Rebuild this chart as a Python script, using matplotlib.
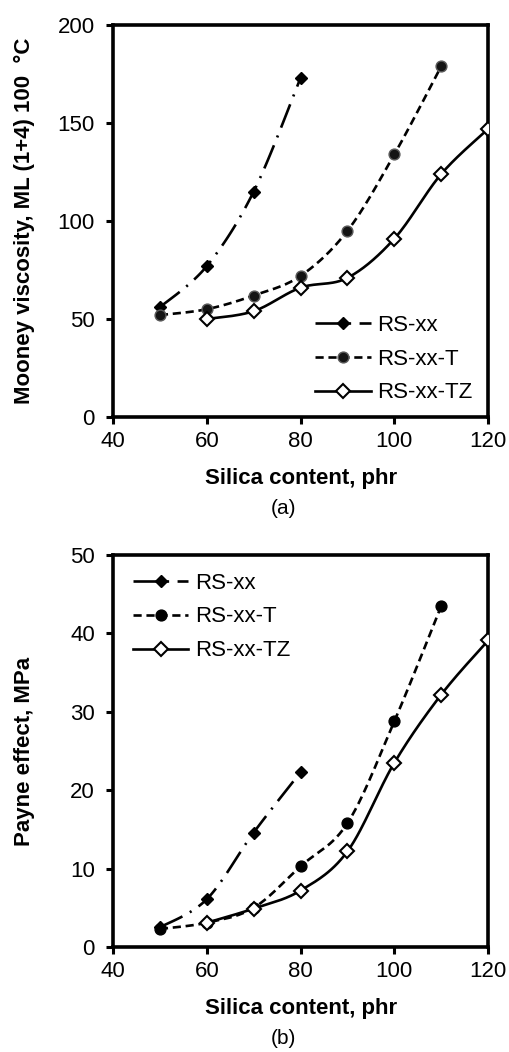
import numpy as np
import matplotlib
matplotlib.use("Agg")
import matplotlib.pyplot as plt
from matplotlib.lines import Line2D

plt.rcParams['font.family'] = ['Liberation Sans', 'DejaVu Sans']

# ---- data ----
x_xx = [50, 60, 70, 80]
x_T = [50, 60, 70, 80, 90, 100, 110]
x_TZ = [60, 70, 80, 90, 100, 110, 120]

mooney_xx = [56, 77, 115, 173]
mooney_T = [52, 55, 62, 72, 95, 134, 179]
mooney_TZ = [50, 54, 66, 71, 91, 124, 147]

payne_xx = [2.5, 6.1, 14.6, 22.3]
payne_T = [2.3, 3.1, 5.0, 10.3, 15.8, 28.8, 43.5]
payne_TZ = [3.1, 4.9, 7.2, 12.2, 23.5, 32.2, 39.1]

series_names = ["RS-xx", "RS-xx-T", "RS-xx-TZ"]
x_ticks = [40, 60, 80, 100, 120]
mooney_ticks = [0, 50, 100, 150, 200]
payne_ticks = [0, 10, 20, 30, 40, 50]


def smooth(xs, ys, xlim, ylim, n=30):
    """Bezier (Catmull-Rom style) smoothing like spreadsheet smoothed lines."""
    xs = np.asarray(xs, float); ys = np.asarray(ys, float)
    sx = (xlim[1] - xlim[0]); sy = (ylim[1] - ylim[0])
    P = np.column_stack([(xs - xlim[0]) / sx, (ys - ylim[0]) / sy])
    out = []
    m = len(P)
    for i in range(m - 1):
        p0 = P[i - 1] if i > 0 else P[i]
        p1 = P[i]; p2 = P[i + 1]
        p3 = P[i + 2] if i + 2 < m else P[i + 1]
        c1 = p1 + (p2 - p0) / 6.0
        c2 = p2 - (p3 - p1) / 6.0
        t = np.linspace(0, 1, n)[:, None]
        seg = ((1 - t) ** 3) * p1 + 3 * ((1 - t) ** 2) * t * c1 + 3 * (1 - t) * t ** 2 * c2 + t ** 3 * p2
        if i > 0:
            seg = seg[1:]
        out.append(seg)
    Q = np.vstack(out)
    return Q[:, 0] * sx + xlim[0], Q[:, 1] * sy + ylim[0]


fig = plt.figure(figsize=(5.09, 10.52), dpi=100)
ax1 = fig.add_axes([0.222, 0.6036, 0.737, 0.3726])
ax2 = fig.add_axes([0.222, 0.0998, 0.737, 0.3726])

LW = 1.9


def styles(top):
    return [
        dict(dashes=(9.5, 3.2, 0.8, 3.2), marker='D', mfc='black', mec='black', ms=6.0, mew=1.0),
        dict(dashes=(3.1, 1.8), marker='o',
             mfc='#141414' if top else 'black', mec='#5a5a5a' if top else 'black',
             ms=7.8, mew=1.0),
        dict(dashes=None, marker='D', mfc='white', mec='black', ms=6.8, mew=1.5),
    ]


FS = 16


def draw(ax, xsets, ysets, ylim, yticks, ylabel, legend_anchor, top):
    xlim = (40, 120)
    handles = []
    for xs, ys, st, name in zip(xsets, ysets, styles(top), series_names):
        sx, sy = smooth(xs, ys, xlim, ylim)
        ln, = ax.plot(sx, sy, color='black', lw=LW, solid_capstyle='butt',
                      dash_capstyle='butt')
        if st['dashes'] is not None:
            ln.set_dashes(st['dashes'])
        ax.plot(xs, ys, linestyle='none', marker=st['marker'], mfc=st['mfc'],
                mec=st['mec'], ms=st['ms'], mew=st['mew'], zorder=3)
        h = Line2D([], [], color='black', lw=LW, marker=st['marker'], mfc=st['mfc'],
                   mec=st['mec'], ms=st['ms'], mew=st['mew'], dash_capstyle='butt')
        if st['dashes'] is not None:
            h.set_dashes(st['dashes'])
        handles.append(h)
    ax.set_xlim(*xlim)
    ax.set_ylim(*ylim)
    ax.set_xticks(x_ticks)
    ax.set_yticks(yticks)
    for s in ax.spines.values():
        s.set_linewidth(2.6)
    ax.tick_params(direction='out', length=5, width=2.2, labelsize=FS)
    ax.tick_params(axis='x', pad=5)
    ax.tick_params(axis='y', pad=8)
    ax.set_xlabel("Silica content, phr", fontsize=FS, fontweight='bold')
    ax.set_ylabel(ylabel, fontsize=FS, fontweight='bold')
    ax.xaxis.set_label_coords(0.5, -0.158)
    ax.xaxis.label.set_verticalalignment('center')
    ax.yaxis.set_label_coords(-0.235, 0.5)
    ax.yaxis.label.set_verticalalignment('center')
    ax.legend(handles, series_names, loc='center left', bbox_to_anchor=legend_anchor,
              frameon=False, fontsize=FS, handlelength=2.5, handletextpad=0.3,
              labelspacing=0.58, borderpad=0, borderaxespad=0)


draw(ax1, [x_xx, x_T, x_TZ], [mooney_xx, mooney_T, mooney_TZ], (0, 200), mooney_ticks,
     "Mooney viscosity, ML (1+4) 100  \u00b0C", (0.539, 0.148), True)
draw(ax2, [x_xx, x_T, x_TZ], [payne_xx, payne_T, payne_TZ], (0, 50), payne_ticks,
     "Payne effect, MPa", (0.053, 0.842), False)

fig.text(0.556, 1 - 508 / 1052, "(a)", ha='center', va='center', fontsize=15)
fig.text(0.556, 1 - 1038 / 1052, "(b)", ha='center', va='center', fontsize=15)

fig.savefig("out.png", dpi=100)
